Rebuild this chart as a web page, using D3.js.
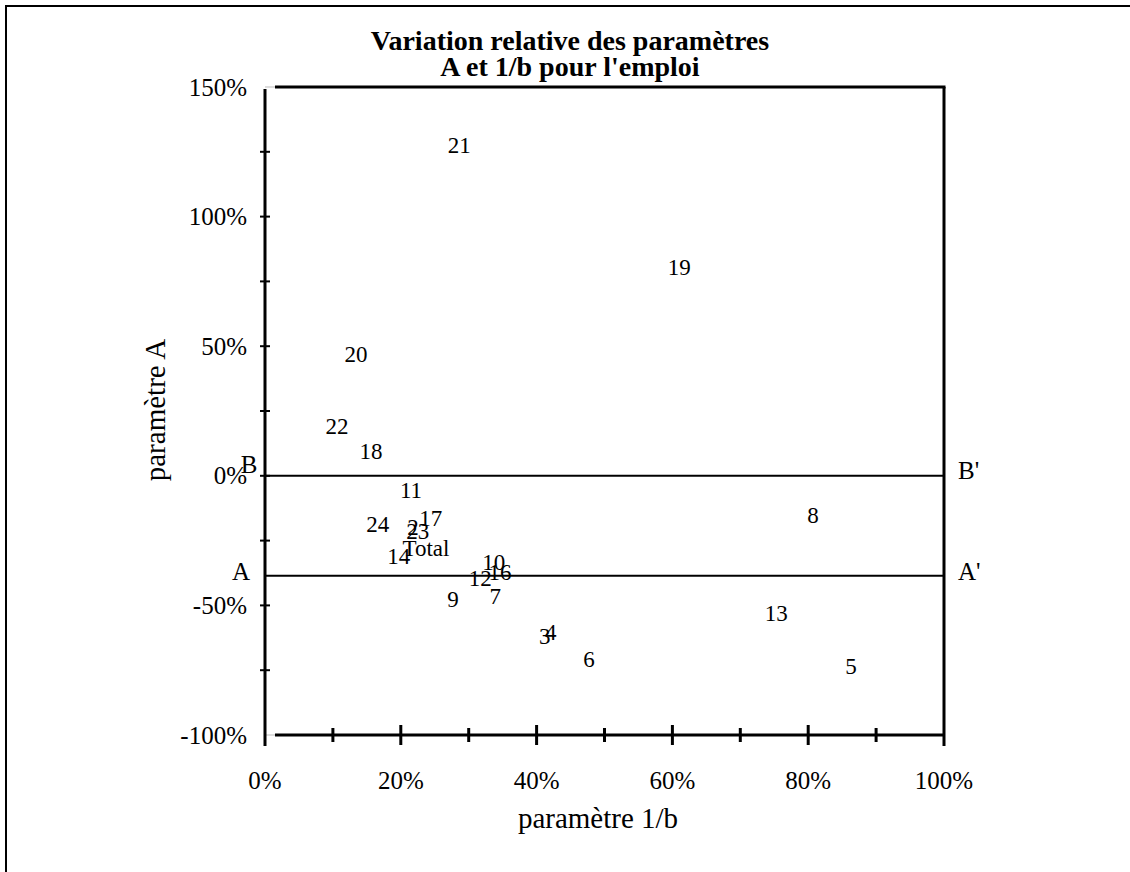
<!DOCTYPE html>
<html><head><meta charset="utf-8">
<script src="https://cdn.jsdelivr.net/npm/d3@7"></script>
<style>
html,body{margin:0;padding:0;background:#fff;}
text{font-family:"Liberation Serif","Times New Roman",serif;fill:#000;}
</style></head>
<body>
<svg id="chart" width="1130" height="872"></svg>
<script>
// Data (x = paramètre 1/b, y = paramètre A), fractions
const labels = ["21","19","20","22","18","11","24","2","23","17","Total","14","10","16","12","7","9","3","4","6","13","5","8"];
const xValues = [0.286,0.610,0.134,0.106,0.156,0.215,0.166,0.218,0.225,0.244,0.237,0.197,0.337,0.346,0.317,0.339,0.277,0.412,0.421,0.477,0.753,0.863,0.807];
const yValues = [1.273,0.802,0.467,0.189,0.093,-0.058,-0.189,-0.201,-0.216,-0.166,-0.282,-0.313,-0.336,-0.374,-0.397,-0.467,-0.478,-0.621,-0.606,-0.710,-0.532,-0.737,-0.154];
const xTicks = [0,0.2,0.4,0.6,0.8,1.0];
const xTickLabels = ["0%","20%","40%","60%","80%","100%"];
const yTicks = [1.5,1.0,0.5,0,-0.5,-1.0];
const yTickLabels = ["150%","100%","50%","0%","-50%","-100%"];
const refLines = [{v:0, left:"B", right:"B'"}, {v:-0.386, left:"A", right:"A'"}];
const titleLines = ["Variation relative des paramètres","A et 1/b pour l'emploi"];

const svg = d3.select("#chart");
const x = d3.scaleLinear().domain([0,1]).range([265,944]);
const y = d3.scaleLinear().domain([-1,1.5]).range([735,87]);

// outer border
svg.append("rect").attr("x",6).attr("y",6).attr("width",1140).attr("height",880)
  .attr("fill","none").attr("stroke","#000").attr("stroke-width",2);

// title
svg.append("g").selectAll("text").data(titleLines).join("text")
  .attr("x",570).attr("y",(d,i)=>40+i*26).attr("text-anchor","middle").attr("dominant-baseline","central")
  .attr("font-weight","bold").attr("font-size",28).text(d=>d);

// frame: top & right lines
svg.append("line").attr("x1",265).attr("x2",275).attr("y1",y(1.5)).attr("y2",y(1.5)).attr("stroke","#bbb").attr("stroke-width",1);
svg.append("line").attr("x1",275).attr("x2",x(1)+1.5).attr("y1",y(1.5)).attr("y2",y(1.5)).attr("stroke","#000").attr("stroke-width",3);
svg.append("line").attr("x1",x(1)).attr("x2",x(1)).attr("y1",y(1.5)).attr("y2",746).attr("stroke","#000").attr("stroke-width",3);

// bottom axis
svg.append("line").attr("x1",265).attr("x2",275).attr("y1",y(-1)).attr("y2",y(-1)).attr("stroke","#bbb").attr("stroke-width",1);
svg.append("line").attr("x1",275).attr("x2",x(1)).attr("y1",y(-1)).attr("y2",y(-1)).attr("stroke","#000").attr("stroke-width",3);
const xMinor = d3.range(1,10).map(d=>d/10);
svg.append("g").selectAll("line").data(xMinor).join("line")
  .attr("x1",d=>x(d)).attr("x2",d=>x(d))
  .attr("y1",(d,i)=>i%2===1? y(-1)-10 : y(-1)-7)
  .attr("y2",(d,i)=>i%2===1? y(-1)+10 : y(-1)+7)
  .attr("stroke","#000").attr("stroke-width",3);
svg.append("g").selectAll("text").data(xTicks).join("text")
  .attr("x",d=>x(d)).attr("y",780).attr("text-anchor","middle").attr("dominant-baseline","central")
  .attr("font-size",25).text((d,i)=>xTickLabels[i]);

// left axis
svg.append("line").attr("x1",x(0)).attr("x2",x(0)).attr("y1",y(1.5)+2).attr("y2",746).attr("stroke","#000").attr("stroke-width",3);
const yMinor = d3.range(-3,6).map(d=>d/4);
svg.append("g").selectAll("line").data(yMinor).join("line")
  .attr("x1",x(0)-5).attr("x2",x(0)+5)
  .attr("y1",d=>y(d)).attr("y2",d=>y(d))
  .attr("stroke","#000").attr("stroke-width",2);
svg.append("g").selectAll("text").data(yTicks).join("text")
  .attr("x",247).attr("y",d=>y(d)).attr("text-anchor","end").attr("dominant-baseline","central")
  .attr("font-size",25).text((d,i)=>yTickLabels[i]);

// reference lines
const rl = svg.append("g");
rl.selectAll("line").data(refLines).join("line")
  .attr("x1",x(0)).attr("x2",x(1)).attr("y1",d=>y(d.v)).attr("y2",d=>y(d.v))
  .attr("stroke","#000").attr("stroke-width",2);
rl.selectAll("text.l").data(refLines).join("text").attr("class","l")
  .attr("x",(d,i)=>i===0?249:241).attr("y",(d,i)=>y(d.v)-(i===0?11:4)).attr("text-anchor","middle").attr("dominant-baseline","central")
  .attr("font-size",25).text(d=>d.left);
rl.selectAll("text.r").data(refLines).join("text").attr("class","r")
  .attr("x",958).attr("y",(d,i)=>y(d.v)-(i===0?5:4)).attr("text-anchor","start").attr("dominant-baseline","central")
  .attr("font-size",25).text(d=>d.right);

// axis titles
svg.append("text").attr("x",598).attr("y",818).attr("text-anchor","middle").attr("dominant-baseline","central")
  .attr("font-size",29).text("paramètre 1/b");
svg.append("text").attr("transform","translate(155,410) rotate(-90)").attr("text-anchor","middle").attr("dominant-baseline","central")
  .attr("font-size",29).text("paramètre A");

// data labels
svg.append("g").selectAll("text").data(labels).join("text")
  .attr("x",(d,i)=>x(xValues[i])).attr("y",(d,i)=>y(yValues[i]))
  .attr("text-anchor","middle").attr("dominant-baseline","central")
  .attr("font-size",23).text(d=>d);
</script>
</body></html>
